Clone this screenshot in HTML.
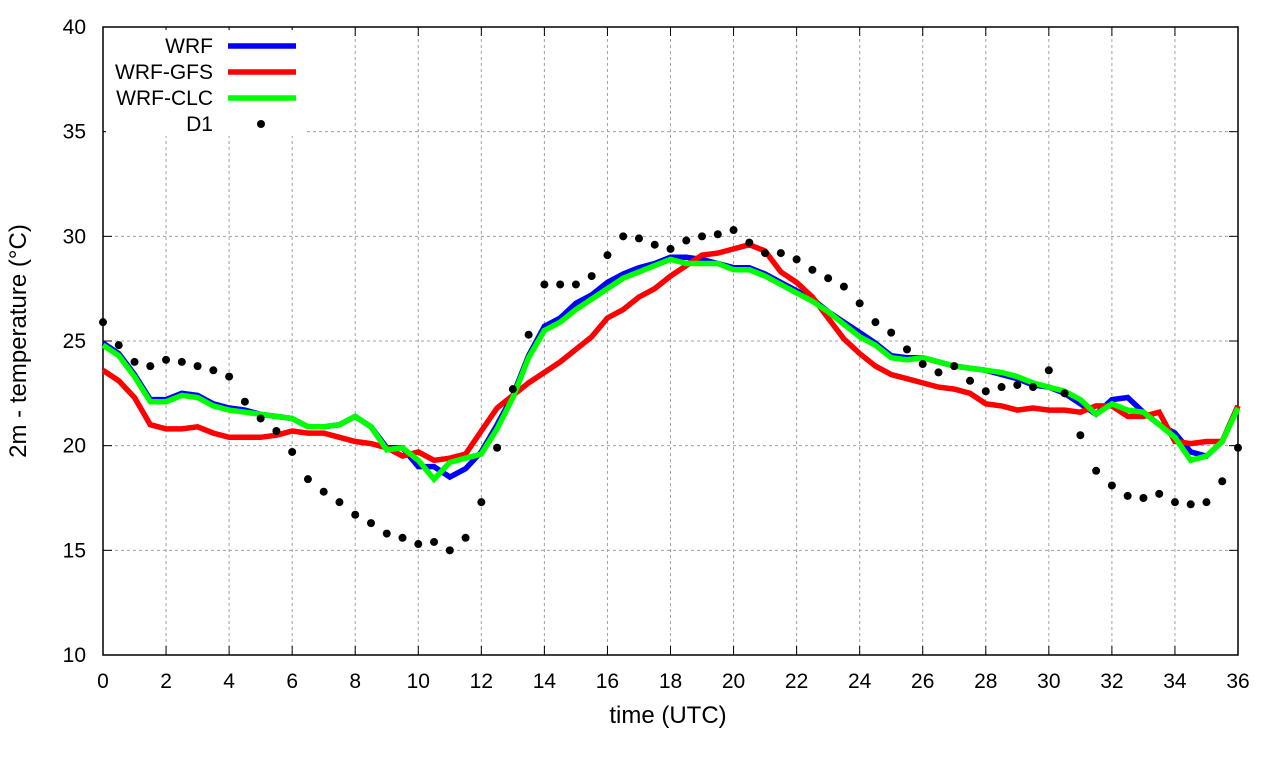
<!DOCTYPE html>
<html><head><meta charset="utf-8"><style>
html,body{margin:0;padding:0;background:#fff;}
svg{display:block;font-family:"Liberation Sans",sans-serif;}
</style></head><body>
<svg id="chart" width="1280" height="760" xmlns="http://www.w3.org/2000/svg">
<g id="grid"></g>
<g id="axes"></g>
<g id="series"></g>
<g id="legend"></g>
</svg>
<script>
const xTicks=[0,2,4,6,8,10,12,14,16,18,20,22,24,26,28,30,32,34,36];
const yTicks=[10,15,20,25,30,35,40];
const times=[];for(let i=0;i<=72;i++)times.push(i*0.5);
const wrf=[24.9,24.4,23.4,22.2,22.2,22.5,22.4,22.0,21.8,21.7,21.5,21.4,21.3,20.9,20.9,21.0,21.4,20.9,19.9,19.9,19.0,19.0,18.5,18.9,19.7,21.0,22.4,24.3,25.7,26.1,26.8,27.2,27.8,28.2,28.5,28.7,29.0,29.0,28.9,28.7,28.5,28.5,28.2,27.8,27.4,27.0,26.4,25.9,25.4,24.9,24.3,24.2,24.2,24.0,23.8,23.7,23.6,23.4,23.2,22.9,22.8,22.5,22.0,21.5,22.2,22.3,21.6,21.0,20.6,19.7,19.5,20.2,21.9];
const wrfGfs=[23.6,23.1,22.3,21.0,20.8,20.8,20.9,20.6,20.4,20.4,20.4,20.5,20.7,20.6,20.6,20.4,20.2,20.1,19.9,19.5,19.7,19.3,19.4,19.6,20.7,21.8,22.4,23.0,23.5,24.0,24.6,25.2,26.1,26.5,27.1,27.5,28.1,28.6,29.1,29.2,29.4,29.6,29.3,28.3,27.8,27.1,26.1,25.1,24.4,23.8,23.4,23.2,23.0,22.8,22.7,22.5,22.0,21.9,21.7,21.8,21.7,21.7,21.6,21.9,21.9,21.4,21.4,21.6,20.2,20.1,20.2,20.2,21.9];
const wrfClc=[24.8,24.3,23.3,22.1,22.1,22.4,22.3,21.9,21.7,21.6,21.5,21.4,21.3,20.9,20.9,21.0,21.4,20.9,19.8,19.9,19.3,18.4,19.2,19.4,19.6,20.8,22.3,24.2,25.5,25.9,26.5,27.0,27.5,28.0,28.3,28.6,28.9,28.7,28.7,28.7,28.4,28.4,28.1,27.7,27.3,26.9,26.4,25.8,25.2,24.8,24.2,24.1,24.2,24.0,23.8,23.7,23.6,23.5,23.3,23.0,22.8,22.6,22.2,21.5,22.0,21.7,21.6,21.0,20.4,19.3,19.5,20.2,21.8];
const d1=[25.9,24.8,24.0,23.8,24.1,24.0,23.8,23.6,23.3,22.1,21.3,20.7,19.7,18.4,17.8,17.3,16.7,16.3,15.8,15.6,15.3,15.4,15.0,15.6,17.3,19.9,22.7,25.3,27.7,27.7,27.7,28.1,29.1,30.0,29.9,29.6,29.4,29.8,30.0,30.1,30.3,29.7,29.2,29.2,28.9,28.4,28.0,27.6,26.8,25.9,25.4,24.6,23.9,23.5,23.8,23.1,22.6,22.8,22.9,22.8,23.6,22.5,20.5,18.8,18.1,17.6,17.5,17.7,17.3,17.2,17.3,18.3,19.9];
const legendLabels=["WRF","WRF-GFS","WRF-CLC","D1"];

const X0=103,X1=1238,Y0=655,Y1=27;
const xs=t=>X0+(t-0)/(36-0)*(X1-X0);
const ys=v=>Y0-(v-10)/(40-10)*(Y0-Y1);
const NS="http://www.w3.org/2000/svg";
function mk(tag,attrs,parent){const e=document.createElementNS(NS,tag);for(const k in attrs)e.setAttribute(k,attrs[k]);parent.appendChild(e);return e;}
const grid=document.getElementById('grid'),axes=document.getElementById('axes'),series=document.getElementById('series'),legend=document.getElementById('legend');

xTicks.forEach(t=>{
  const x=xs(t);
  if(t>0&&t<36){const g=mk('line',{x1:x,x2:x,y1:Y1,y2:Y0,stroke:'#a0a0a0','stroke-width':1,'stroke-dasharray':'3,3'},grid);
  
  }
  mk('line',{x1:x,x2:x,y1:Y0,y2:Y0-9,stroke:'#000'},axes);
  mk('line',{x1:x,x2:x,y1:Y1,y2:Y1+9,stroke:'#000'},axes);
  const tx=mk('text',{x:x,y:Y0+33,'text-anchor':'middle','font-size':21},axes);tx.textContent=t;
  
  
});
yTicks.forEach(v=>{
  const y=ys(v);
  if(v>10&&v<40){const g=mk('line',{x1:X0,x2:X1,y1:y,y2:y,stroke:'#a0a0a0','stroke-width':1,'stroke-dasharray':'3,3'},grid);
  
  }
  mk('line',{x1:X0,x2:X0+9,y1:y,y2:y,stroke:'#000'},axes);
  mk('line',{x1:X1,x2:X1-9,y1:y,y2:y,stroke:'#000'},axes);
  const tx=mk('text',{x:X0-17,y:y+7,'text-anchor':'end','font-size':21},axes);tx.textContent=v;
  
  
});
const border=mk('rect',{x:X0,y:Y1,width:X1-X0,height:Y0-Y1,fill:'none',stroke:'#000','stroke-width':1.5},axes);


const xt=mk('text',{x:668,y:723,'text-anchor':'middle','font-size':24},axes);xt.textContent='time (UTC)';


const yt=mk('text',{x:0,y:0,'text-anchor':'middle','font-size':24,transform:'translate(26,341) rotate(-90)'},axes);yt.textContent='2m - temperature (°C)';



function line(data,color,name){
  const d=data.map((v,i)=>(i?'L':'M')+xs(times[i]).toFixed(1)+','+ys(v).toFixed(1)).join('');
  const p=mk('path',{d:d,fill:'none',stroke:color,'stroke-width':5.5,'stroke-linejoin':'miter'},series);
  
  
}
line(wrf,'#0000ff','wrf-line');
line(wrfGfs,'#ff0000','wrf-gfs-line');
line(wrfClc,'#00ff00','wrf-clc-line');
d1.forEach((v,i)=>{
  const c=mk('circle',{cx:xs(times[i]),cy:ys(v),r:4,fill:'#000'},series);
  
  
});

const lb=mk('rect',{x:106,y:30,width:200,height:106,fill:'#fff'},legend);


const colors=['#0000ff','#ff0000','#00ff00',null];
legendLabels.forEach((lab,i)=>{
  const y=46+i*26;
  const t=mk('text',{x:213,y:y+7,'text-anchor':'end','font-size':21},legend);t.textContent=lab;
  
  
  if(colors[i]){mk('line',{x1:228,x2:296,y1:y,y2:y,stroke:colors[i],'stroke-width':5.5},legend);}
  else{mk('circle',{cx:261,cy:y,r:4,fill:'#000'},legend);}
});
</script>
</body></html>
